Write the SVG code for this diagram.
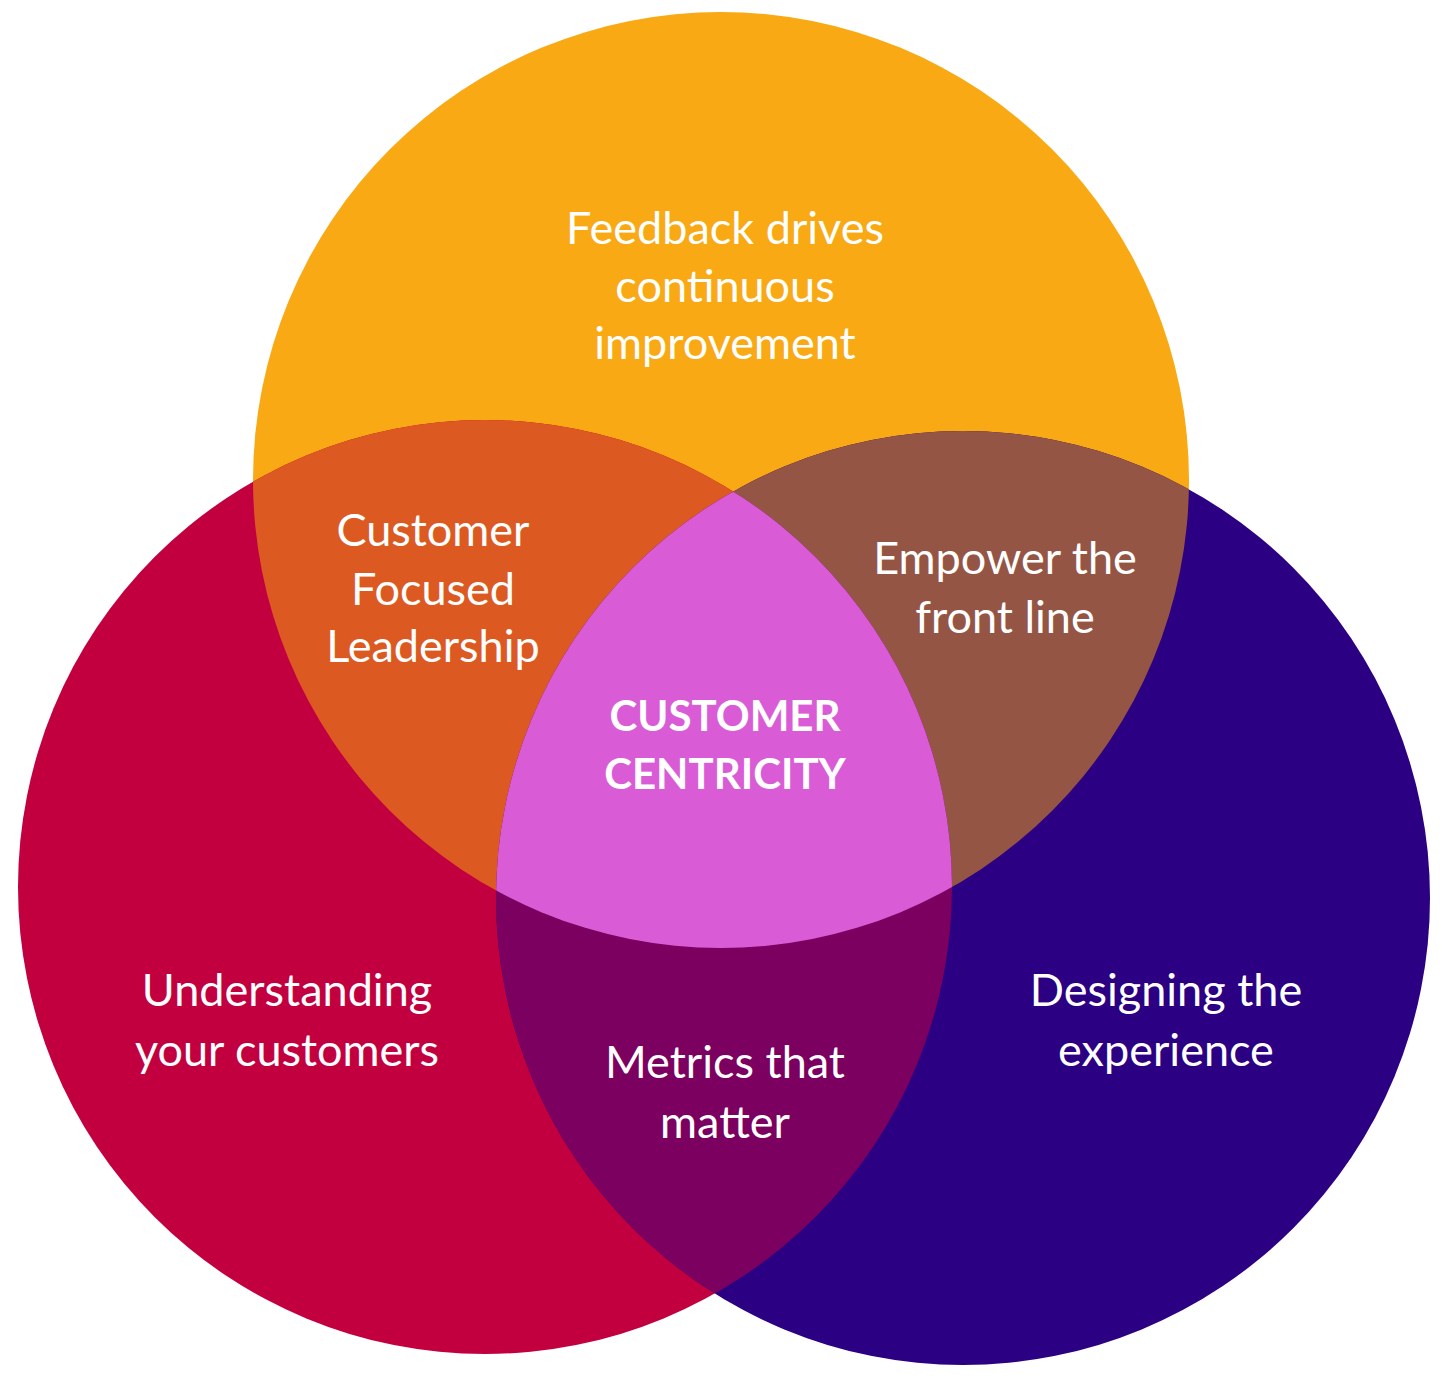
<svg xmlns="http://www.w3.org/2000/svg" width="1456" height="1383" viewBox="0 0 1456 1383">
<style>
text{font-family:Lato,"Open Sans","Liberation Sans",sans-serif;font-size:45px;fill:#ffffff;text-anchor:middle}
.b{font-weight:bold;font-size:42px}
</style>
<defs>
<clipPath id="cTop"><circle cx="721" cy="480" r="468"/></clipPath>
<clipPath id="cLeft"><circle cx="485" cy="887" r="467"/></clipPath>
<clipPath id="cRight"><circle cx="963" cy="898" r="467"/></clipPath>
</defs>
<rect width="1456" height="1383" fill="#ffffff"/>
<g id="circle-top"><circle cx="721" cy="480" r="468" fill="#F9A913"/></g>
<g id="circle-left"><circle cx="485" cy="887" r="467" fill="#C3003F"/></g>
<g id="circle-right"><circle cx="963" cy="898" r="467" fill="#2B0082"/></g>
<g id="overlap-top-left" clip-path="url(#cTop)"><circle cx="485" cy="887" r="467" fill="#DC5A21"/></g>
<g id="overlap-top-right" clip-path="url(#cTop)"><circle cx="963" cy="898" r="467" fill="#955545"/></g>
<g id="overlap-left-right" clip-path="url(#cLeft)"><circle cx="963" cy="898" r="467" fill="#7B0060"/></g>
<g id="center" clip-path="url(#cTop)"><g clip-path="url(#cLeft)"><circle cx="963" cy="898" r="467" fill="#DA5BD6"/></g></g>
<g id="labels">
<text x="725" y="244">Feedback drives</text>
<text x="725" y="302">continuous</text>
<text x="725" y="359">improvement</text>
<text x="433" y="546">Customer</text>
<text x="433" y="605">Focused</text>
<text x="433" y="662">Leadership</text>
<text x="1005" y="574">Empower the</text>
<text x="1005" y="633">front line</text>
<text class="b" x="725" y="731">CUSTOMER</text>
<text class="b" x="725" y="789">CENTRICITY</text>
<text x="287" y="1006">Understanding</text>
<text x="287" y="1066">your customers</text>
<text x="725" y="1078">Metrics that</text>
<text x="725" y="1138">matter</text>
<text x="1166" y="1006">Designing the</text>
<text x="1166" y="1066">experience</text>
</g>
</svg>
